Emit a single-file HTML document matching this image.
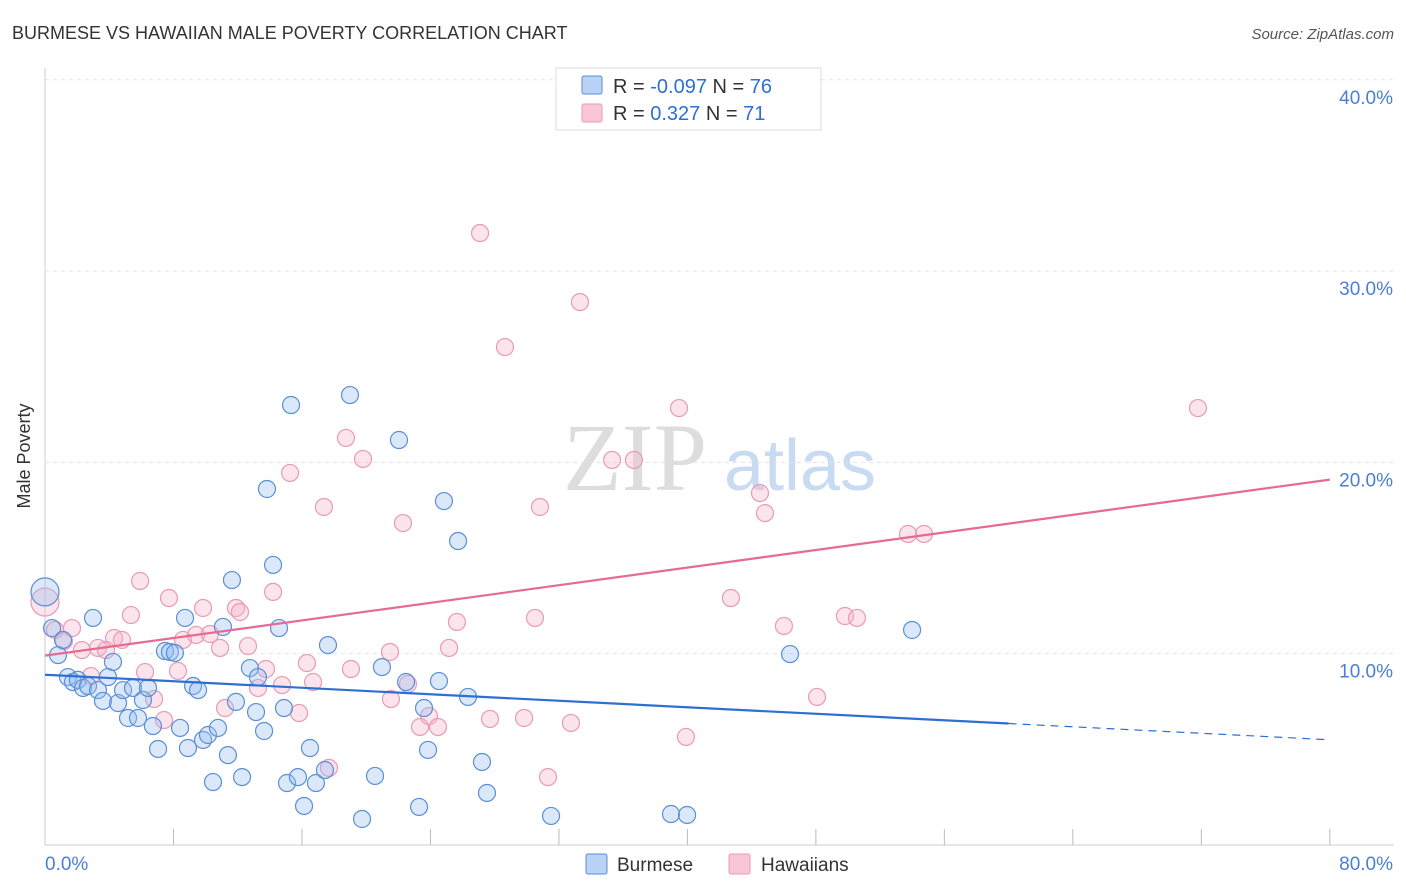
<!DOCTYPE html>
<html><head><meta charset="utf-8"><style>
body{margin:0;background:#fff;font-family:"Liberation Sans",sans-serif}
svg{display:block}
</style></head><body>
<svg id="c" width="1406" height="892">
<text x="12" y="39" font-size="18" fill="#333">BURMESE VS HAWAIIAN MALE POVERTY CORRELATION CHART</text>
<text x="1394" y="39" font-size="15" fill="#555" font-style="italic" text-anchor="end">Source: ZipAtlas.com</text>
<text x="30" y="456" font-size="18" fill="#333" text-anchor="middle" transform="rotate(-90 30 456)">Male Poverty</text>
<g><text x="635" y="490" font-size="96" font-family="Liberation Serif,serif" fill="#ddd" text-anchor="middle">ZIP</text><text x="800" y="490" font-size="72" fill="#c9daf3" text-anchor="middle">atlas</text></g>
<g id="grid"></g><g id="marks"></g><g id="lines"></g>
<g>
<rect x="556" y="68" width="265" height="62" fill="#fff" stroke="#ddd"/>
<rect x="582" y="76" width="20" height="18" fill="#b9d3f7" stroke="#5b8fd6" rx="2"/>
<rect x="582" y="104" width="20" height="18" fill="#f9c6d6" stroke="#e89ab4" rx="2"/>
<text x="613" y="93" font-size="20" fill="#333">R = <tspan fill="#2d6fd2">-0.097</tspan>   N = <tspan fill="#2d6fd2">76</tspan></text>
<text x="613" y="120" font-size="20" fill="#333">R =   <tspan fill="#2d6fd2">0.327</tspan>   N =  <tspan fill="#2d6fd2">71</tspan></text>
</g>
<g>
<rect x="586" y="854" width="21" height="20" fill="#b9d3f7" stroke="#5b8fd6" rx="2"/>
<text x="617" y="871" font-size="19" fill="#333">Burmese</text>
<rect x="729" y="854" width="21" height="20" fill="#f9c6d6" stroke="#e89ab4" rx="2"/>
<text x="761" y="871" font-size="19" fill="#333">Hawaiians</text>
</g>
</svg>
<script>
const yTicks=[10,20,30,40];
const xTickLabels=["0.0%","80.0%"];
const blueLine=[8.9,5.5];
const pinkLine=[9.9,19.1];
const bluePx=[[45,592],[52,628],[58,655],[63,640],[68,677],[73,682],[78,680],[83,688],[88,686],[93,618],[98,690],[103,701],[108,677],[113,662],[118,703],[123,690],[128,718],[133,688],[138,718],[143,700],[148,688],[153,726],[158,749],[165,651],[170,652],[175,653],[180,728],[185,618],[188,748],[193,686],[198,690],[203,740],[208,735],[213,782],[218,728],[223,627],[228,755],[232,580],[236,702],[242,777],[250,668],[256,712],[258,677],[264,731],[267,489],[273,565],[279,628],[284,708],[287,783],[291,405],[298,777],[304,806],[310,748],[316,783],[325,770],[328,645],[350,395],[362,819],[375,776],[382,667],[399,440],[406,682],[419,807],[424,708],[428,750],[439,681],[444,501],[458,541],[468,697],[482,762],[487,793],[551,816],[671,814],[687,815],[790,654],[912,630]];
const pinkPx=[[45,602],[55,630],[64,641],[72,628],[82,650],[91,676],[98,648],[106,650],[114,638],[122,640],[131,615],[140,581],[145,672],[154,699],[164,720],[169,598],[178,671],[183,640],[196,635],[203,608],[210,634],[220,648],[225,708],[236,608],[240,612],[248,646],[258,688],[266,669],[273,592],[282,685],[290,473],[299,713],[307,663],[313,682],[324,507],[329,768],[346,438],[351,669],[363,459],[390,652],[391,699],[403,523],[408,684],[420,727],[429,716],[438,727],[449,648],[457,622],[480,233],[490,719],[505,347],[524,718],[535,618],[540,507],[548,777],[571,723],[580,302],[612,460],[634,460],[679,408],[686,737],[731,598],[760,493],[765,513],[784,626],[817,697],[845,616],[857,618],[908,534],[924,534],[1198,408]];
// convert reading positions to data values (x %, y %)
const toData=p=>[+((p[0]-45)/16.06).toFixed(2),+((845-p[1])/19.13).toFixed(2)];
const blueData=bluePx.map(toData), pinkData=pinkPx.map(toData);
const X=v=>45+v*16.06, Y=v=>845-v*19.13;
const NS="http://www.w3.org/2000/svg";
function mk(t,a,p){const e=document.createElementNS(NS,t);for(const k in a)e.setAttribute(k,a[k]);p.appendChild(e);return e;}
const g=document.getElementById('grid');
let ax=mk('line',{x1:45,y1:68,x2:45,y2:845,stroke:'#ccc'},g);

let bx=mk('line',{x1:45,y1:845,x2:1394,y2:845,stroke:'#ccc'},g);

for(let i=1;i<=10;i++){const t=mk('line',{x1:X(i*8),y1:829,x2:X(i*8),y2:845,stroke:'#bbb'},g);}
yTicks.forEach(v=>{const l=mk('line',{x1:45,y1:Y(v),x2:1394,y2:Y(v),stroke:'#e3e3e3','stroke-dasharray':'4 4'},g);
const t=mk('text',{x:1393,y:Y(v)+24,'font-size':19,fill:'#4a7fd4','text-anchor':'end'},g);t.textContent=v.toFixed(1)+'%';});
const tl=mk('text',{x:45,y:870,'font-size':19,fill:'#4a7fd4'},g);tl.textContent=xTickLabels[0];
const tr=mk('text',{x:1393,y:870,'font-size':19,fill:'#4a7fd4','text-anchor':'end'},g);tr.textContent=xTickLabels[1];
const m=document.getElementById('marks');
function pts(d,fill,stroke,name){d.forEach((p,i)=>{const c=mk('circle',{cx:X(p[0]),cy:Y(p[1]),r:i==0?14:8.5,fill:fill,stroke:stroke,'stroke-width':1.2},m);});}
pts(pinkData,'rgba(246,178,201,0.35)','#e99ab5','hawaiian-point');
pts(blueData,'rgba(150,188,240,0.35)','#5b8fd6','burmese-point');
const L=document.getElementById('lines');
const bEnd=60;const bMid=blueLine[0]+(blueLine[1]-blueLine[0])*bEnd/80;
let l1=mk('line',{x1:X(0),y1:Y(blueLine[0]),x2:X(bEnd),y2:Y(bMid),stroke:'#2d6fd2','stroke-width':2.2},L);

let l2=mk('line',{x1:X(bEnd),y1:Y(bMid),x2:X(80),y2:Y(blueLine[1]),stroke:'#2d6fd2','stroke-width':1.2,'stroke-dasharray':'8 6'},L);

let l3=mk('line',{x1:X(0),y1:Y(pinkLine[0]),x2:X(80),y2:Y(pinkLine[1]),stroke:'#e56a95','stroke-width':2.2},L);

</script>
</body></html>
